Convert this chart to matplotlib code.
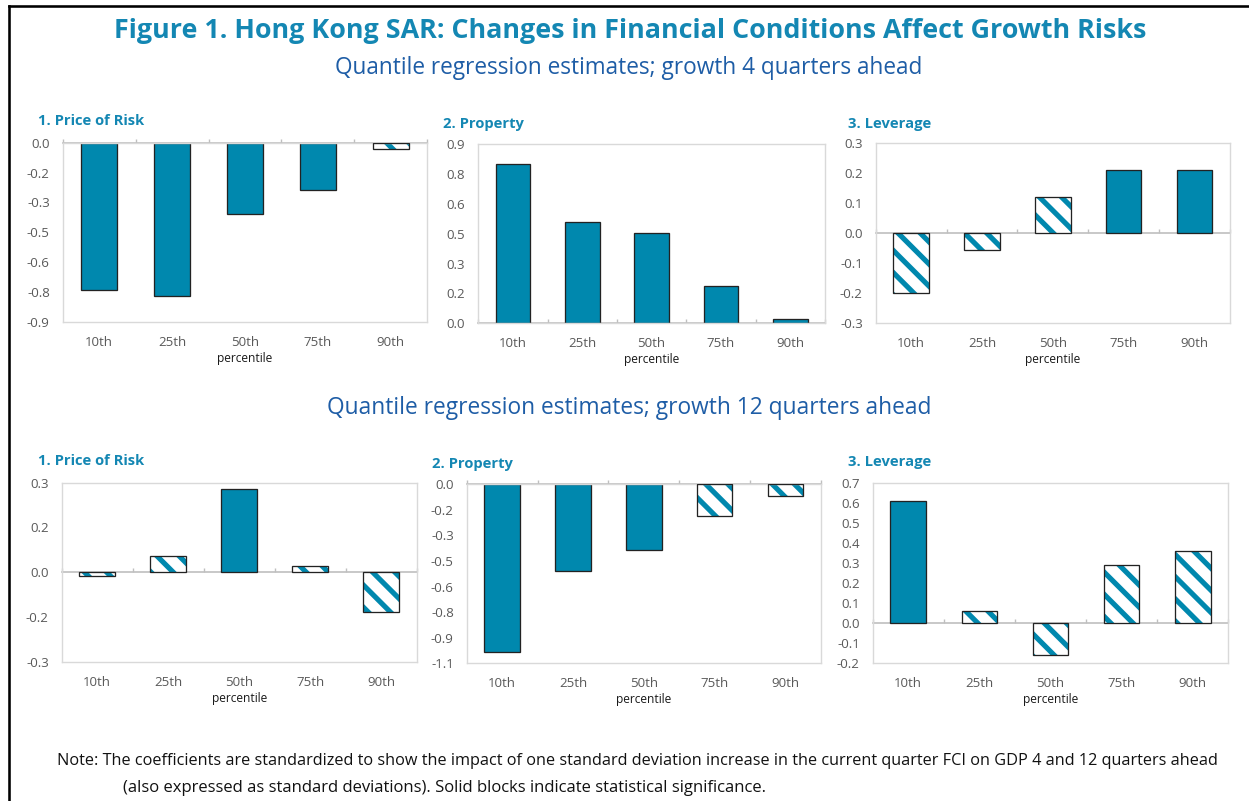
import matplotlib
matplotlib.use("Agg")
import matplotlib.pyplot as plt
from matplotlib.ticker import FuncFormatter, FixedLocator
from matplotlib.lines import Line2D
from decimal import Decimal, ROUND_HALF_UP
import numpy as np

# ---------------- data ----------------
categories = ["10th", "25th", "50th", "75th", "90th"]

price_4q = [-0.74, -0.77, -0.36, -0.24, -0.03]
property_4q = [0.80, 0.51, 0.455, 0.19, 0.02]
leverage_4q = [-0.198, -0.057, 0.12, 0.212, 0.212]

price_12q = [-0.013, 0.055, 0.278, 0.02, -0.135]
property_12q = [-0.983, -0.508, -0.385, -0.186, -0.07]
leverage_12q = [0.612, 0.06, -0.158, 0.292, 0.363]

# statistical significance (True = solid block)
sig_price_4q = [True, True, True, True, False]
sig_property_4q = [True, True, True, True, True]
sig_leverage_4q = [False, False, False, True, True]
sig_price_12q = [False, False, True, False, False]
sig_property_12q = [True, True, True, False, False]
sig_leverage_12q = [True, False, False, False, False]

# y-axis ranges (min, max, major unit)
yaxis_price_4q = (-0.9, 0.0, 0.15)
yaxis_property_4q = (0.0, 0.9, 0.15)
yaxis_leverage_4q = (-0.3, 0.3, 0.1)
yaxis_price_12q = (-0.3, 0.3, 0.15)
yaxis_property_12q = (-1.05, 0.0, 0.15)
yaxis_leverage_12q = (-0.2, 0.7, 0.1)

panel_titles = ["1. Price of Risk", "2. Property", "3. Leverage"]
title = "Figure 1. Hong Kong SAR: Changes in Financial Conditions Affect Growth Risks"
subtitle_4q = "Quantile regression estimates; growth 4 quarters ahead"
subtitle_12q = "Quantile regression estimates; growth 12 quarters ahead"
note1 = ("Note: The coefficients are standardized to show the impact of one standard deviation "
         "increase in the current quarter FCI on GDP 4 and 12 quarters ahead")
note2 = "(also expressed as standard deviations). Solid blocks indicate statistical significance."
xlabel = "percentile"

# ---------------- style ----------------
W, H = 1249, 801
DPI = 133
FONT = ["Open Sans", "DejaVu Sans"]
plt.rcParams["font.family"] = FONT
plt.rcParams["hatch.linewidth"] = 2.8

TEAL = "#0088AE"
TITLE_C = "#1487B3"
SUB_C = "#1E5DA6"
TICK_C = "#595959"
FRAME_C = "#D9D9D9"
ZERO_C = "#BFBFBF"
EDGE_C = "#222222"

fig = plt.figure(figsize=(W / DPI + 1e-4, H / DPI + 1e-4), dpi=DPI)


def px_axes(l, t, r, b):
    return fig.add_axes([l / W, 1 - b / H, (r - l) / W, (b - t) / H])


def excel_fmt(v, pos=None):
    d = Decimal(str(round(float(v), 6))).quantize(Decimal("0.1"), rounding=ROUND_HALF_UP)
    s = f"{d:.1f}"
    if s == "-0.0":
        s = "0.0"
    return s


def draw_panel(ax, values, sig, yaxis):
    ymin, ymax, step = yaxis
    x = np.arange(len(categories))
    for xi, v, s in zip(x, values, sig):
        if s:
            ax.bar(xi, v, width=0.5, color=TEAL, edgecolor=EDGE_C, linewidth=0.7, zorder=2)
        else:
            ax.bar(xi, v, width=0.5, facecolor="white", edgecolor=TEAL, hatch="\\\\",
                   linewidth=0, zorder=2)
            ax.bar(xi, v, width=0.5, fill=False, edgecolor=EDGE_C, linewidth=0.7, zorder=3)
    ax.set_xlim(-0.5, len(categories) - 0.5)
    ax.set_ylim(ymin, ymax)
    n = int(round((ymax - ymin) / step))
    ax.yaxis.set_major_locator(FixedLocator([ymin + i * step for i in range(n + 1)]))
    ax.yaxis.set_major_formatter(FuncFormatter(excel_fmt))
    ax.set_xticks(x, categories)
    ax.tick_params(axis="y", length=0, pad=7, labelsize=7.2, labelcolor=TICK_C)
    ax.tick_params(axis="x", length=0, pad=7.5, labelsize=7.2, labelcolor=TICK_C)
    for sp in ax.spines.values():
        sp.set_color(FRAME_C)
        sp.set_linewidth(0.75)
    ax.set_xlabel(xlabel, fontsize=6.5, color="#1a1a1a", labelpad=1.8)
    # zero line with category-boundary tick marks
    loc = (0 - ymin) / (ymax - ymin)
    sec = ax.secondary_xaxis(loc)
    sec.set_xticks(np.arange(-0.5, len(categories), 1.0))
    sec.tick_params(axis="x", direction=("out" if loc >= 0.5 else "in"), length=2.2,
                    width=0.75, color=ZERO_C, labeltop=False, labelbottom=False)
    for sp in sec.spines.values():
        sp.set_color(ZERO_C)
        sp.set_linewidth(0.9)


panels = [
    ((62.7, 142.7, 427.3, 321.7), price_4q, sig_price_4q, yaxis_price_4q, (38, 120.5), 0),
    ((478.3, 144.3, 825, 323.3), property_4q, sig_property_4q, yaxis_property_4q, (443, 123.5), 1),
    ((875.7, 143.3, 1230, 323.3), leverage_4q, sig_leverage_4q, yaxis_leverage_4q, (848, 124), 2),
    ((61.7, 482.7, 416.7, 661.7), price_12q, sig_price_12q, yaxis_price_12q, (38, 460.5), 0),
    ((466.7, 484.3, 821, 663.3), property_12q, sig_property_12q, yaxis_property_12q, (432, 463.5), 1),
    ((872.7, 483.3, 1228.3, 663.3), leverage_12q, sig_leverage_12q, yaxis_leverage_12q, (848, 461.5), 2),
]

for box, vals, sig, yax, tpos, ti in panels:
    ax = px_axes(*box)
    draw_panel(ax, vals, sig, yax)
    fig.text(tpos[0] / W, 1 - tpos[1] / H, panel_titles[ti], ha="left", va="center",
             fontsize=8.0, fontweight="bold", color=TITLE_C)

# ---------------- titles & notes ----------------
t_title = fig.text(630 / W, 1 - 37.7 / H, title, ha="center", va="baseline",
                   fontsize=14, fontweight="bold", color=TITLE_C)
t_sub1 = fig.text(629 / W, 1 - 74 / H, subtitle_4q, ha="center", va="baseline",
                  fontsize=10, color=SUB_C)
t_sub2 = fig.text(629 / W, 1 - 414 / H, subtitle_12q, ha="center", va="baseline",
                  fontsize=10, color=SUB_C)
t_n1 = fig.text(57 / W, 1 - 765 / H, note1, ha="left", va="baseline", fontsize=8, color="#111111")
t_n2 = fig.text(123 / W, 1 - 792 / H, note2, ha="left", va="baseline", fontsize=8, color="#111111")

fig.canvas.draw()
r = fig.canvas.get_renderer()
for t, target in [(t_title, 1034), (t_sub1, 592), (t_sub2, 608), (t_n1, 1165), (t_n2, 649)]:
    w = t.get_window_extent(r).width
    t.set_fontsize(t.get_fontsize() * target / w)

# outer frame (top and left edges visible)
fig.add_artist(Line2D([9 / W, 1.0], [1 - 6 / H, 1 - 6 / H], color="black", linewidth=1.4,
                      transform=fig.transFigure))
fig.add_artist(Line2D([9 / W, 9 / W], [1 - 6 / H, 0.0], color="black", linewidth=1.4,
                      transform=fig.transFigure))

fig.savefig("out.png", dpi=DPI)
